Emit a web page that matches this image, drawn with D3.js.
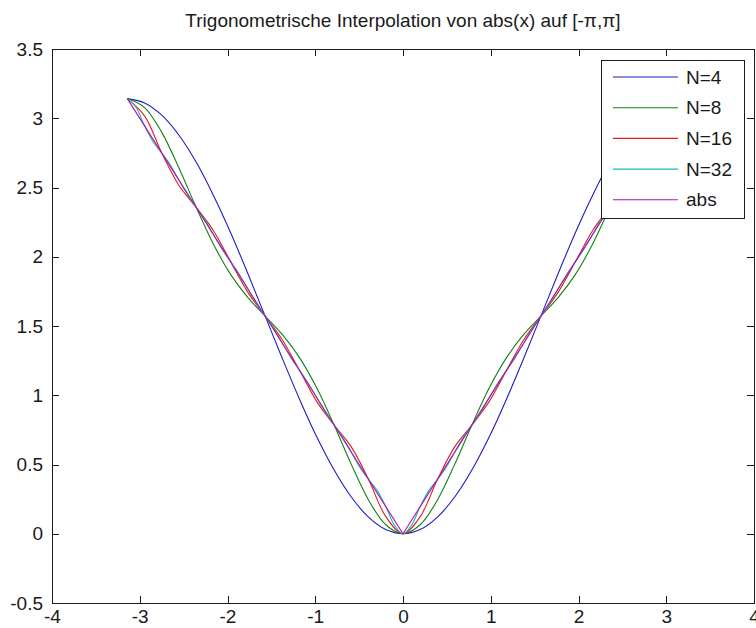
<!DOCTYPE html>
<html lang="de">
	<head>
		<meta charset="utf-8">
		<title>Trigonometrische Interpolation</title>
		<script type="text/javascript" src="https://cdn.jsdelivr.net/npm/d3@7"></script>
		<style type="text/css">
			body { margin: 0; background: #fff; }
			svg text {
				font-family: "Liberation Sans", Arial, Helvetica, sans-serif;
				fill: #1a1a1a;
			}
			.axis path { display: none; }
			.axis line { stroke: #1a1a1a; shape-rendering: crispEdges; }
			.axis text { font-size: 19px; }
		</style>
	</head>
	<body>
		<script type="text/javascript">
			// x grid with step pi/16 (used for N=4, N=8, N=16)
			var xGrid16 = [-3.142,-2.945,-2.749,-2.553,-2.356,-2.160,-1.963,-1.767,-1.571,-1.374,-1.178,-0.982,-0.785,-0.589,-0.393,-0.196,
				0,0.196,0.393,0.589,0.785,0.982,1.178,1.374,1.571,1.767,1.963,2.160,2.356,2.553,2.749,2.945,3.142];

			// x grid with step pi/32 (used for N=32)
			var xGrid32 = [-3.142,-3.043,-2.945,-2.847,-2.749,-2.651,-2.553,-2.454,-2.356,-2.258,-2.160,-2.062,-1.963,-1.865,-1.767,-1.669,
				-1.571,-1.473,-1.374,-1.276,-1.178,-1.080,-0.982,-0.884,-0.785,-0.687,-0.589,-0.491,-0.393,-0.295,-0.196,-0.098,
				0,0.098,0.196,0.295,0.393,0.491,0.589,0.687,0.785,0.884,0.982,1.080,1.178,1.276,1.374,1.473,
				1.571,1.669,1.767,1.865,1.963,2.062,2.160,2.258,2.356,2.454,2.553,2.651,2.749,2.847,2.945,3.043,3.142];

			var yN4 = [3.142,3.111,3.022,2.877,2.682,2.443,2.172,1.877,1.571,1.264,0.970,0.698,0.460,0.265,0.120,0.030,
				0,0.030,0.120,0.265,0.460,0.698,0.970,1.264,1.571,1.877,2.172,2.443,2.682,2.877,3.022,3.111,3.142];

			var yN8 = [3.142,3.077,2.898,2.641,2.356,2.090,1.871,1.705,1.571,1.437,1.270,1.052,0.785,0.501,0.244,0.065,
				0,0.065,0.244,0.501,0.785,1.052,1.270,1.437,1.571,1.705,1.871,2.090,2.356,2.641,2.898,3.077,3.142];

			var yN16 = [3.142,3.017,2.749,2.514,2.356,2.188,1.963,1.743,1.571,1.399,1.178,0.954,0.785,0.627,0.393,0.124,
				0,0.124,0.393,0.627,0.785,0.954,1.178,1.399,1.571,1.743,1.963,2.188,2.356,2.514,2.749,3.017,3.142];

			var yN32 = [3.142,3.079,2.945,2.829,2.749,2.663,2.553,2.445,2.356,2.266,2.160,2.055,1.963,1.872,1.767,1.663,
				1.571,1.479,1.374,1.270,1.178,1.087,0.982,0.876,0.785,0.697,0.589,0.479,0.393,0.313,0.196,0.062,
				0,0.062,0.196,0.313,0.393,0.479,0.589,0.697,0.785,0.876,0.982,1.087,1.178,1.270,1.374,1.479,
				1.571,1.663,1.767,1.872,1.963,2.055,2.160,2.266,2.356,2.445,2.553,2.663,2.749,2.829,2.945,3.079,3.142];

			var xAbs = [-3.142, 0, 3.142];
			var yAbs = [3.142, 0, 3.142];

			var seriesNames = ["N=4", "N=8", "N=16", "N=32", "abs"];
			var seriesColors = ["#1c1cc8", "#148014", "#e01c1c", "#14bcbc", "#b014b0"];
			var xTicks = [-4, -3, -2, -1, 0, 1, 2, 3, 4];
			var yTicks = [-0.5, 0, 0.5, 1, 1.5, 2, 2.5, 3, 3.5];
			var titleText = "Trigonometrische Interpolation von abs(x) auf [-\u03c0,\u03c0]";

			var w = 756;
			var h = 628;
			// plot box (window.top is reserved, so no "top" here)
			var boxL = 52, boxR = 754, boxT = 49, boxB = 603;

			var xScale = d3.scaleLinear().domain([-4, 4]).range([boxL, boxR]);
			var yScale = d3.scaleLinear().domain([-0.5, 3.5]).range([boxB, boxT]);

			var svg = d3.select("body").append("svg").attr("width", w).attr("height", h);

			// series as (x, y) pairs
			var series = [
				{ xs: xGrid16, ys: yN4, curve: d3.curveCatmullRom },
				{ xs: xGrid16, ys: yN8, curve: d3.curveCatmullRom },
				{ xs: xGrid16, ys: yN16, curve: d3.curveCatmullRom },
				{ xs: xGrid32, ys: yN32, curve: d3.curveCatmullRom },
				{ xs: xAbs, ys: yAbs, curve: d3.curveLinear }
			];

			series.forEach(function(s, i) {
				var pts = s.xs.map(function(x, j) { return [x, s.ys[j]]; });
				var line = d3.line()
					.x(function(d) { return xScale(d[0]); })
					.y(function(d) { return yScale(d[1]); })
					.curve(s.curve);
				svg.append("path")
				   .datum(pts)
				   .attr("d", line)
				   .attr("fill", "none")
				   .attr("stroke", seriesColors[i])
				   .attr("stroke-width", 1.1);
			});

			// axes, ticks pointing inward on all four sides
			var fmt = function(d) { return String(d); };
			svg.append("g").attr("class", "axis")
			   .attr("transform", "translate(0," + boxB + ")")
			   .call(d3.axisBottom(xScale).tickValues(xTicks).tickSizeInner(-7).tickSizeOuter(0).tickPadding(7).tickFormat(fmt));
			svg.append("g").attr("class", "axis")
			   .attr("transform", "translate(0," + boxT + ")")
			   .call(d3.axisTop(xScale).tickValues(xTicks).tickSizeInner(-7).tickSizeOuter(0).tickFormat(""));
			svg.append("g").attr("class", "axis")
			   .attr("transform", "translate(" + boxL + ",0)")
			   .call(d3.axisLeft(yScale).tickValues(yTicks).tickSizeInner(-7).tickSizeOuter(0).tickPadding(9).tickFormat(fmt));
			svg.append("g").attr("class", "axis")
			   .attr("transform", "translate(" + boxR + ",0)")
			   .call(d3.axisRight(yScale).tickValues(yTicks).tickSizeInner(-7).tickSizeOuter(0).tickFormat(""));

			// frame
			svg.append("rect")
			   .attr("x", boxL).attr("y", boxT)
			   .attr("width", boxR - boxL).attr("height", boxB - boxT)
			   .attr("fill", "none").attr("stroke", "#1a1a1a")
			   .attr("shape-rendering", "crispEdges");

			// title
			svg.append("text")
			   .attr("x", (boxL + boxR) / 2).attr("y", 27)
			   .attr("text-anchor", "middle")
			   .attr("font-size", "19px")
			   .text(titleText);

			// legend
			var lg = svg.append("g").attr("transform", "translate(601,60)");
			lg.append("rect")
			  .attr("width", 143).attr("height", 158)
			  .attr("fill", "#fff").attr("stroke", "#1a1a1a")
			  .attr("shape-rendering", "crispEdges");
			var items = lg.selectAll("g.item")
			  .data(seriesNames)
			  .enter().append("g")
			  .attr("class", "item")
			  .attr("transform", function(d, i) { return "translate(0," + (17 + i * 30.7) + ")"; });
			items.append("line")
			  .attr("x1", 12).attr("x2", 77)
			  .attr("stroke", function(d, i) { return seriesColors[i]; })
			  .attr("stroke-width", 1.1);
			items.append("text")
			  .attr("x", 85).attr("dy", "0.35em")
			  .attr("font-size", "19px")
			  .text(function(d) { return d; });
		</script>
	</body>
</html>
